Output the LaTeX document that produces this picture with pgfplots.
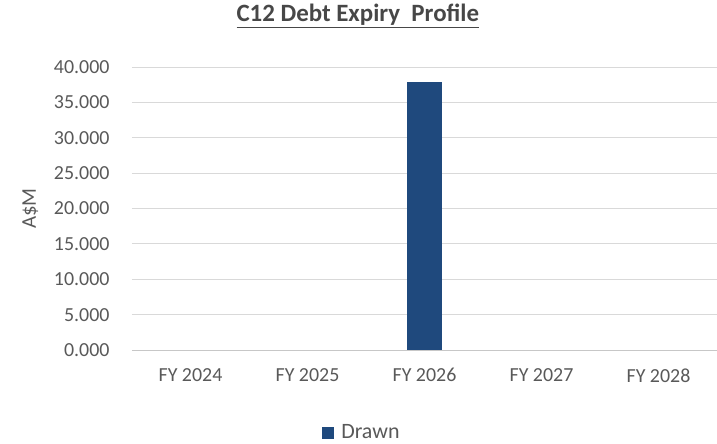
\documentclass[border=0pt]{standalone}
\usepackage{fontspec}
\setmainfont{Carlito}
\usepackage{pgfplots}
\pgfplotsset{compat=1.18}
\definecolor{barblue}{HTML}{1F497D}
\definecolor{txtgray}{HTML}{595959}
\definecolor{gridgray}{HTML}{D9D9D9}
\begin{document}
\fontsize{19}{23}\selectfont
\begin{tikzpicture}
\useasboundingbox (-132bp,-94bp) rectangle (585bp,350bp);
\begin{axis}[
  scale only axis,
  width=585bp, height=283bp,
  xmin=-0.5, xmax=4.5,
  ymin=0, ymax=40,
  ytick={0,5,...,40},
  xtick={0,1,2,3,4},
  xticklabels={FY 2024,FY 2025,FY 2026,FY 2027,FY 2028},
  major tick length=0pt,
  axis x line*=bottom,
  axis y line*=left,
  y axis line style={draw=none},
  x axis line style={gridgray!80!gray, line width=1pt},
  ymajorgrids,
  grid style={gridgray, line width=0.8pt},
  /pgf/number format/assume math mode=true,
  yticklabel={\pgfmathprintnumber[fixed,fixed zerofill,precision=3]{\tick}},
  scaled y ticks=false,
  tick label style={font=\fontsize{20}{24}\selectfont, text=txtgray},
  yticklabel style={xshift=-16bp},
  xticklabel style={yshift=-12bp},
  ylabel={A\$M},
  ylabel style={at={(-0.174,0.5)}, anchor=center, font=\fontsize{21}{25}\selectfont, text=txtgray},
  title={\underline{\textbf{C12 Debt Expiry\ \ Profile}}},
  title style={at={(0.386,1.159)}, anchor=center, font=\fontsize{25}{29}\selectfont, text=txtgray!80!black},
  legend style={at={(0.393,-0.293)}, anchor=center, draw=none, font=\fontsize{22}{26}\selectfont, text=txtgray},
  legend image code/.code={\fill[barblue] (0bp,-6bp) rectangle (12bp,6bp); \path (17bp,0bp);},
]
\addplot[ybar, bar width=35bp, fill=barblue, draw=none, unbounded coords=discard,
  y filter/.expression={y==0 ? nan : y}] coordinates {(0,0) (1,0) (2,37.9) (3,0) (4,0)};
\addlegendentry{Drawn}
\end{axis}
\end{tikzpicture}
\end{document}
